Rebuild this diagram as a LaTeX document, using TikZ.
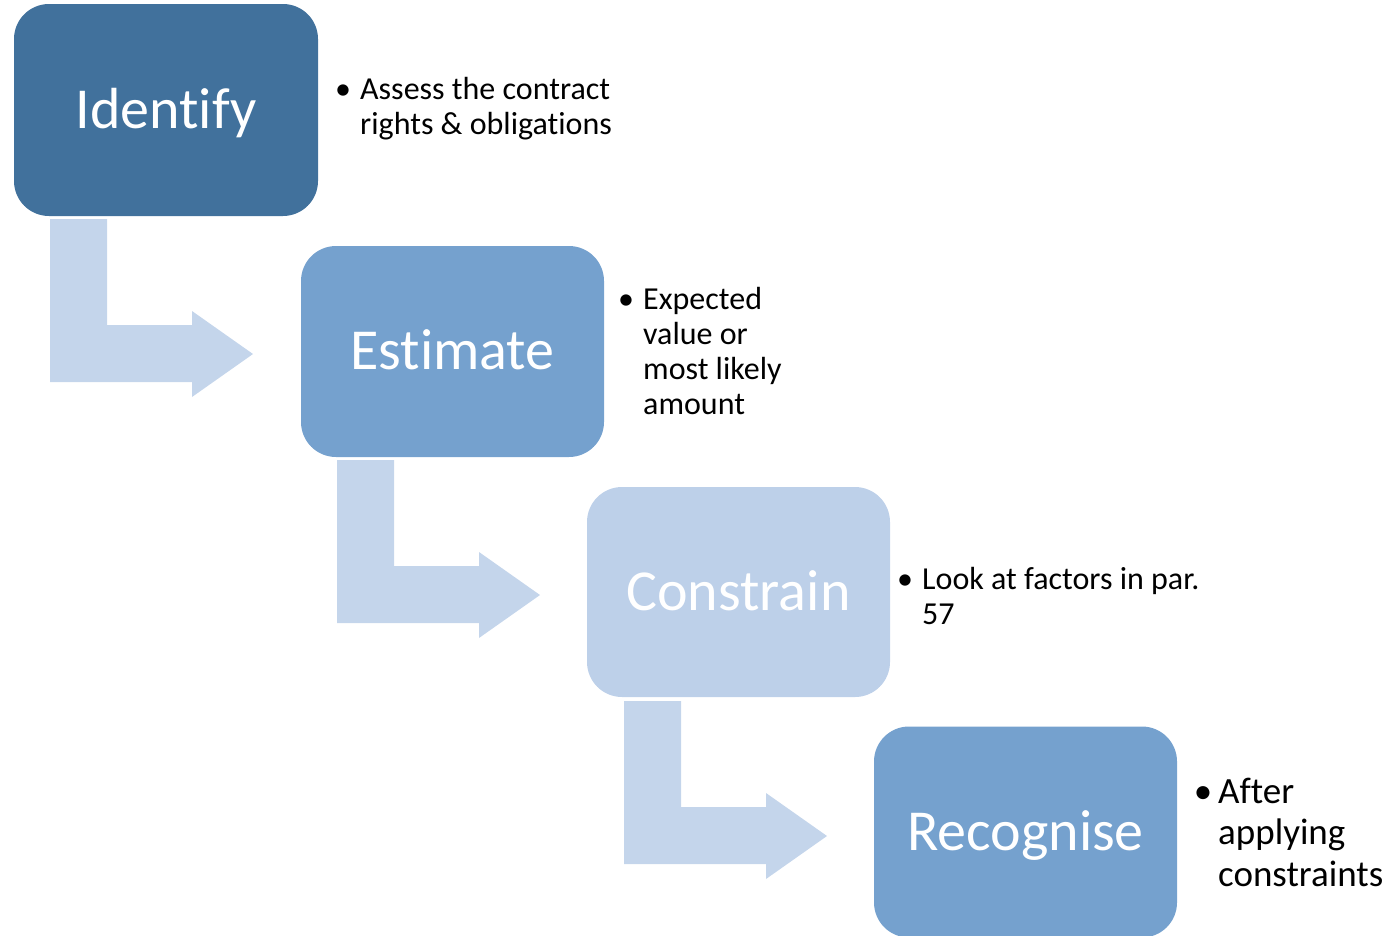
\documentclass[tikz,border=0pt]{standalone}
\usepackage{fontspec}
\setmainfont{Carlito}[Ligatures={NoCommon,NoContextual,NoRequired}]
\definecolor{cA}{RGB}{65,113,156}
\definecolor{cB}{RGB}{117,161,206}
\definecolor{cC}{RGB}{189,208,233}
\definecolor{cArr}{RGB}{196,213,235}
\begin{document}
\begin{tikzpicture}[x=1pt,y=-1pt,
  stepbox/.style={rounded corners=35pt, minimum width=303pt, minimum height=211pt, inner sep=0pt, draw=none},
  lbl/.style={text=white, font=\fontsize{58}{70}\selectfont, inner sep=0pt, anchor=base},
  bul/.style={inner sep=0pt, anchor=base, font=\fontsize{32}{35}\selectfont},
  txt/.style={inner sep=0pt, anchor=base west, font=\fontsize{32}{35}\selectfont},
  bulL/.style={inner sep=0pt, anchor=base, font=\fontsize{37}{41.5}\selectfont},
  txtL/.style={inner sep=0pt, anchor=base west, font=\fontsize{37}{41.5}\selectfont},
  bentarrow/.style={fill=cArr, draw=none}]
\useasboundingbox (0,0) rectangle (1394,935);
\begin{scope}
\clip (0,0) rectangle (1394,935);
% bent arrows
\foreach \dx/\dy in {0/0, 287/241, 574/482}{
  \fill[bentarrow, shift={(\dx,\dy)}] (50,219) -- (107,219) -- (107,325) -- (192,325) -- (192,311) -- (253,354) -- (192,397) -- (192,382) -- (50,382) -- cycle;
}
% boxes
\node[stepbox, fill=cA, minimum width=304pt, minimum height=212pt] (id) at (166,110) {};
\node[stepbox, fill=cB] (es) at (452.5,351.5) {};
\node[stepbox, fill=cC, minimum height=210pt] (co) at (738.5,592) {};
\node[stepbox, fill=cB] (re) at (1025.5,832) {};
\end{scope}
% labels
\node[lbl] (idl) at ([yshift=-18pt]id.center) {Identify};
\node[lbl] (esl) at ([yshift=-18pt]es.center) {Estimate};
\node[lbl] (col) at ([yshift=-18pt]co.center) {Constrain};
\node[lbl] (rel) at ([yshift=-18pt]re.center) {Recognise};
% bullets
\node[bul] (b1) at (343,99) {•};
\node[txt] (t1) at (360,99) {\begin{tabular}[t]{@{}l@{}}Assess the contract\\rights \& obligations\end{tabular}};
\node[bul] (b2) at (626,309) {•};
\node[txt] (t2) at (643,309) {\begin{tabular}[t]{@{}l@{}}Expected\\value or\\most likely\\amount\end{tabular}};
\node[bul] (b3) at (905,589) {•};
\node[txt] (t3) at (922,589) {\begin{tabular}[t]{@{}l@{}}Look at factors in par.\\57\end{tabular}};
\node[bulL] (b4) at (1203,803) {•};
\node[txtL] (t4) at (1218,803) {\begin{tabular}[t]{@{}l@{}}After\\applying\\constraints\end{tabular}};
\end{tikzpicture}
\end{document}
